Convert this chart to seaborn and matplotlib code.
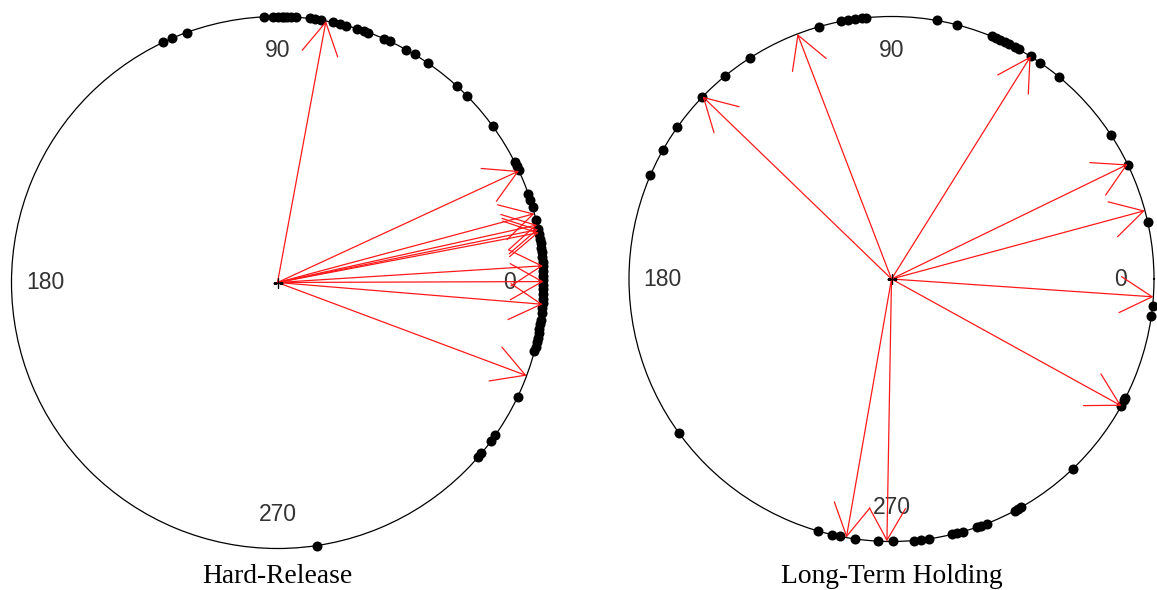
import numpy as np
import pandas as pd
import matplotlib
matplotlib.use("Agg")
import matplotlib.pyplot as plt
import seaborn as sns

# ---- data (angles in degrees) ----
hard_points = [115.5, 113.3, 110, 93, 91, 90, 89, 88.5, 88, 87, 86, 83, 82, 80.5,
               78, 76.5, 75, 72.5, 71, 70, 66.5, 65, 61, 59, 55.5, 47.5, 44.5, 36,
               27, 26, 25, 19.5, 18, 16.5, 13.5, 11.5, 10.5, 9.5, 8.5, 7.5, 6.5, 5.5,
               4.5, 3.5, 2.5, 1.5, 0.5, 359.5, 358.5, 357.5, 356.5, 355.5, 354.5,
               353.5, 352, 351, 350, 349, 348, 347, 346, 345, 334.5, 325, 323.5, 320,
               319, 278.5]
hard_arrows = [79.5, 24.8, 15.0, 12.5, 11.5, 10.8, 3.6, 0.2, -4.7, -20.5]

long_points = [156.7, 150.6, 144.7, 136.1, 129.5, 122.7, 106, 101, 99.5, 98, 96.5,
               95.5, 80, 75.5, 67.5, 66.5, 65.5, 64.5, 63.5, 62, 61, 58, 55.5, 50.3,
               33.2, 25.8, 12.5, 354, 352, 331, 332.5, 333, 313.7, 298, 298.8, 299.5,
               289, 290, 291.3, 283.3, 284.5, 285.8, 275, 276.5, 278.3, 270.3, 267,
               262, 258.6, 256.9, 253.7, 216]
long_arrows = [136, 111, 58, 25.9, 15.1, -3.9, -28.9, 260.1, 269]

tick_angles = [0, 90, 180, 270]
tick_labels = ["0", "90", "180", "270"]
titles = ["Hard-Release", "Long-Term Holding"]

W, H = 1157, 590
fig = plt.figure(figsize=(W / 100, H / 100), dpi=100)
fig.patch.set_facecolor("white")


def make_panel(cx, cy, R, points, arrows, title, title_x):
    ax = fig.add_axes([(cx - R) / W, (H - cy - R) / H, 2 * R / W, 2 * R / H],
                      projection="polar")
    df = pd.DataFrame({"theta": np.deg2rad(points), "r": np.ones(len(points))})
    sns.scatterplot(data=df, x="theta", y="r", ax=ax, color="black", s=52,
                    linewidth=0, clip_on=False, zorder=3, legend=False)
    for a in arrows:
        ax.annotate("", xy=(np.deg2rad(a), 1.0), xytext=(0, 0),
                    arrowprops=dict(arrowstyle="->,head_length=2.3,head_width=1.3",
                                    color="#ff1a1a", lw=0.9, shrinkA=0, shrinkB=0,
                                    mutation_scale=10),
                    annotation_clip=False, zorder=4)
    ax.plot([0], [0], marker="+", color="black", ms=7, mew=1.0, zorder=5)
    for ang, lab in zip(tick_angles, tick_labels):
        ax.text(np.deg2rad(ang), 0.872, lab, ha="center", va="center",
                fontsize=16.5, color="#333333", family="Liberation Sans", zorder=2)
    ax.set_ylim(0, 1)
    ax.set_xticks([])
    ax.set_yticks([])
    ax.grid(False)
    ax.set_xlabel("")
    ax.set_ylabel("")
    ax.spines["polar"].set_linewidth(0.9)
    ax.spines["polar"].set_color("black")
    ax.set_facecolor("none")
    fig.text(title_x / W, 1 - 583 / H, title, ha="center", va="baseline",
             fontsize=19.8, family="Liberation Serif", color="black")


make_panel(277.5, 282.5, 266, hard_points, hard_arrows, titles[0], 277)
make_panel(891.5, 279, 262.5, long_points, long_arrows, titles[1], 892)

fig.savefig("out.png", dpi=100, facecolor="white")
